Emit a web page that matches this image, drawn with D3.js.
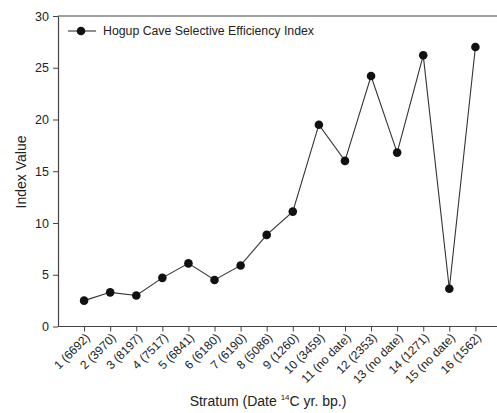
<!DOCTYPE html>
<html><head><meta charset="utf-8">
<script src="https://cdn.jsdelivr.net/npm/d3@7"></script>
<style>body{margin:0;background:#fff}svg{display:block}text{font-family:Arial,"Liberation Sans",sans-serif;fill:#222}</style>
</head><body><svg id="c" width="497" height="413"></svg>
<script>
const strata = [1,2,3,4,5,6,7,8,9,10,11,12,13,14,15,16];
const tickLabels = ["1 (6692)","2 (3970)","3 (8197)","4 (7517)","5 (6841)","6 (6180)","7 (6190)","8 (5086)","9 (1260)","10 (3459)","11 (no date)","12 (2353)","13 (no date)","14 (1271)","15 (no date)","16 (1562)"];
const indexValues = [2.5,3.3,3.0,4.7,6.1,4.5,5.9,8.85,11.1,19.5,16.0,24.2,16.8,26.2,3.65,27.0];
const yTicks = [0,5,10,15,20,25,30];
const seriesName = "Hogup Cave Selective Efficiency Index";

const svg = d3.select("#c");
const x = d3.scaleLinear().domain([0,17]).range([58,501.5]);
const y = d3.scaleLinear().domain([0,30]).range([326.5,16]);
const axisColor = "#444";

// top frame line
svg.append("line").attr("x1",58).attr("x2",497).attr("y1",y(30)).attr("y2",y(30)).attr("stroke",axisColor).attr("stroke-width",1.2);

const yAxis = svg.append("g").attr("transform","translate(58,0)")
  .call(d3.axisLeft(y).tickValues(yTicks).tickSize(5).tickPadding(4).tickSizeOuter(0));
yAxis.select(".domain").attr("stroke",axisColor).attr("stroke-width",1.2);
yAxis.selectAll(".tick line").attr("stroke",axisColor);
yAxis.selectAll("text").attr("font-size",12.5).attr("fill","#333").attr("font-family","Arial, 'Liberation Sans', sans-serif");

const xAxis = svg.append("g").attr("transform",`translate(0,${y(0)})`)
  .call(d3.axisBottom(x).tickValues(strata).tickFormat((d,i)=>tickLabels[i]).tickSize(5).tickSizeOuter(0));
xAxis.select(".domain").attr("stroke",axisColor).attr("stroke-width",1.2).attr("d","M58,0H497");
xAxis.selectAll(".tick line").attr("stroke",axisColor);
xAxis.selectAll("text").attr("font-size",12).attr("fill","#333")
  .attr("font-family","Arial, 'Liberation Sans', sans-serif")
  .attr("text-anchor","end").attr("dy",null).attr("y",0)
  .attr("transform","translate(6,12) rotate(-45)");

// line
svg.append("path").datum(indexValues)
  .attr("fill","none").attr("stroke","#333").attr("stroke-width",1.1)
  .attr("d",d3.line().x((d,i)=>x(strata[i])).y(d=>y(d)));
svg.selectAll("circle.pt").data(indexValues).join("circle").attr("class","pt")
  .attr("cx",(d,i)=>x(strata[i])).attr("cy",d=>y(d)).attr("r",4.3).attr("fill","#111");

// legend
svg.append("line").attr("x1",68).attr("x2",96).attr("y1",31).attr("y2",31).attr("stroke","#333").attr("stroke-width",1.1);
svg.append("circle").attr("cx",81).attr("cy",31).attr("r",4.3).attr("fill","#111");
svg.append("text").attr("x",103).attr("y",35).attr("font-size",12.3).text(seriesName);

// axis titles
svg.append("text").attr("transform","translate(26,172) rotate(-90)").attr("text-anchor","middle").attr("font-size",14).text("Index Value");
const xt = svg.append("text").attr("x",268).attr("y",406).attr("text-anchor","middle").attr("font-size",14);
xt.append("tspan").text("Stratum (Date ");
xt.append("tspan").attr("font-size",8).attr("dy",-6).text("14");
xt.append("tspan").attr("dy",6).text("C yr. bp.)");
</script></body></html>
